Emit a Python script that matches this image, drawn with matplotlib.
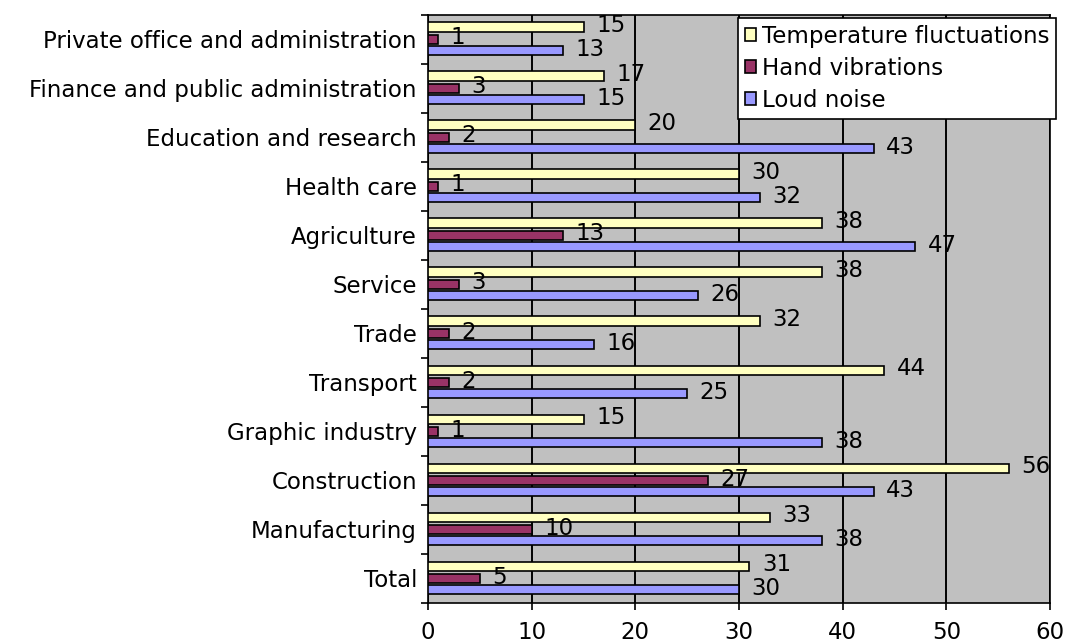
import numpy as np
import matplotlib.pyplot as plt

# Categorias (de cima para baixo) e percentuais por tipo de exposição
setores = [
    "Private office and administration",
    "Finance and public administration",
    "Education and research",
    "Health care",
    "Agriculture",
    "Service",
    "Trade",
    "Transport",
    "Graphic industry",
    "Construction",
    "Manufacturing",
    "Total",
]
temperatura = [15, 17, 20, 30, 38, 38, 32, 44, 15, 56, 33, 31]
vibracoes = [1, 3, 2, 1, 13, 3, 2, 2, 1, 27, 10, 5]
ruido = [13, 15, 43, 32, 47, 26, 16, 25, 38, 43, 38, 30]

series = [
    ("Temperature fluctuations", temperatura, "#FFFFC0", -0.25),
    ("Hand vibrations", vibracoes, "#993366", 0.0),
    ("Loud noise", ruido, "#9999FF", 0.23),
]

fs = 16.5
fig = plt.figure(figsize=(10.66, 6.44), dpi=100)
ax = fig.add_axes([0.4015, 0.0637, 0.5835, 0.9133])
ax.set_facecolor("#C0C0C0")

y = np.arange(len(setores))
z = 3
for nome, valores, cor, desloc in series:
    ax.barh(y + desloc, valores, height=0.19, color=cor, edgecolor="black",
            linewidth=1.2, label=nome, zorder=z)
    for yi, v in zip(y, valores):
        ax.annotate(str(v), (v, yi + desloc), xytext=(9, 1), textcoords="offset points",
                    ha="left", va="center", fontsize=fs, zorder=z + 1)
    z += 2

ax.set_xlim(0, 60)
ax.set_ylim(len(setores) - 0.5, -0.5)
ax.set_xticks(range(0, 61, 10))
ax.set_yticks(y)
ax.set_yticklabels(setores)
ax.set_yticks(np.arange(-0.5, len(setores), 1), minor=True)
ax.tick_params(axis="y", which="major", length=0, labelsize=fs, pad=8)
ax.tick_params(axis="y", which="minor", length=5, direction="out", width=1.2)
ax.tick_params(axis="x", length=5, width=1.2, labelsize=fs, pad=8)
ax.grid(axis="x", color="black", linewidth=1.4, zorder=1)
ax.set_axisbelow(True)
for s in ax.spines.values():
    s.set_linewidth(1.2)

leg = ax.legend(loc="upper right", bbox_to_anchor=(1.01, 0.995), fontsize=fs,
                handlelength=0.5, handleheight=0.5, handletextpad=0.25,
                borderpad=0.3, labelspacing=0.4, fancybox=False, framealpha=1,
                borderaxespad=0)
leg.get_frame().set_edgecolor("black")
leg.get_frame().set_linewidth(1.2)

fig.savefig("out.png", dpi=100)
